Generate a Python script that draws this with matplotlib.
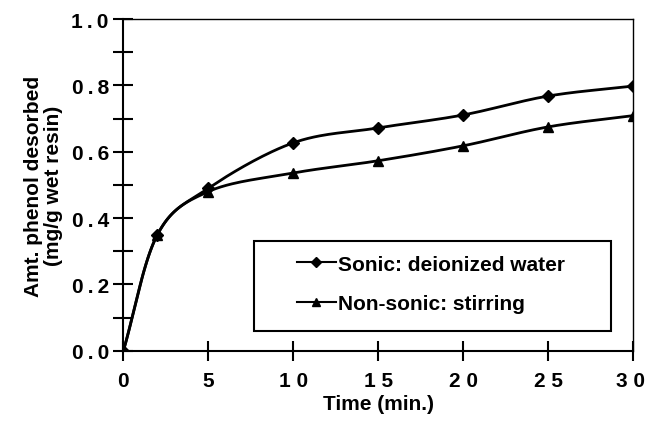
import numpy as np
import matplotlib
matplotlib.use("Agg")
import matplotlib.pyplot as plt
import matplotlib.transforms as mtransforms
from matplotlib.patches import Rectangle

# data
time_min = [0, 2, 5, 10, 15, 20, 25, 30]
sonic = [0.0, 0.35, 0.49, 0.627, 0.672, 0.711, 0.768, 0.798]
nonsonic = [0.0, 0.35, 0.48, 0.536, 0.573, 0.618, 0.675, 0.709]
x_ticks = [0, 5, 10, 15, 20, 25, 30]
x_tick_labels = ["0", "5", "1 0", "1 5", "2 0", "2 5", "3 0"]
y_ticks = [0.0, 0.2, 0.4, 0.6, 0.8, 1.0]
y_tick_labels = ["0\u2009.\u20090", "0\u2009.\u20092", "0\u2009.\u20094",
                 "0\u2009.\u20096", "0\u2009.\u20098", "1\u2009.\u20090"]


def smooth(x, y, n=30):
    # catmull-rom style smoothing, like a spreadsheet "smoothed line"
    x = np.asarray(x, float)
    y = np.asarray(y, float)
    px = np.concatenate([[2 * x[0] - x[1]], x, [2 * x[-1] - x[-2]]])
    py = np.concatenate([[2 * y[0] - y[1]], y, [2 * y[-1] - y[-2]]])
    xs, ys = [], []
    t = np.linspace(0, 1, n)
    for i in range(1, len(px) - 2):
        p0, p1, p2, p3 = [np.array([px[j], py[j]]) for j in (i - 1, i, i + 1, i + 2)]
        m1 = (p2 - p0) / 6.0
        m2 = (p3 - p1) / 6.0
        b1 = p1 + m1
        b2 = p2 - m2
        pts = ((1 - t) ** 3)[:, None] * p1 + (3 * (1 - t) ** 2 * t)[:, None] * b1 \
            + (3 * (1 - t) * t ** 2)[:, None] * b2 + (t ** 3)[:, None] * p2
        xs.extend(pts[:, 0])
        ys.extend(pts[:, 1])
    return np.array(xs), np.array(ys)


plt.rcParams["font.family"] = ["Liberation Sans", "DejaVu Sans"]
plt.rcParams["font.weight"] = "bold"

fig = plt.figure(figsize=(6.46, 4.27), dpi=100)
ax = fig.add_axes([0.191, 0.176, 0.789, 0.777])

sx, sy = smooth(time_min, sonic)
ax.plot(sx, sy, color="black", lw=2.0, zorder=3)
ax.plot(time_min, sonic, ls="none", marker="D", ms=6, color="black", zorder=4)
nx, ny = smooth(time_min, nonsonic)
ax.plot(nx, ny, color="black", lw=2.0, zorder=3)
ax.plot(time_min, nonsonic, ls="none", marker="^", ms=7, color="black", zorder=4)

ax.set_xlim(0, 30)
ax.set_ylim(0, 1.0)
ax.set_xticks(x_ticks)
ax.set_xticklabels(x_tick_labels)
ax.set_yticks(y_ticks)
ax.set_yticklabels(y_tick_labels)
ax.set_yticks(np.arange(0.1, 1.0, 0.2), minor=True)
ax.tick_params(axis="both", which="both", direction="inout", length=15, width=1.5,
               labelsize=15)
ax.tick_params(axis="y", pad=3)
ax.tick_params(axis="x", pad=7)
for s in ax.spines.values():
    s.set_linewidth(1.5)
ax.spines["top"].set_linewidth(1.0)
ax.spines["right"].set_linewidth(1.0)

# nudge the last x label so it stays inside the picture
last = ax.get_xticklabels()[-1]
last.set_transform(last.get_transform() +
                   mtransforms.ScaledTranslation(-3 / 100, 0, fig.dpi_scale_trans))

ax.set_xlabel("Time (min.)", fontsize=15, fontweight="bold", labelpad=3)
ax.set_ylabel("Amt. phenol desorbed\n(mg/g wet resin)", fontsize=15,
              fontweight="bold", labelpad=6, linespacing=1.1)

# legend, with a hand-drawn box
ax.add_patch(Rectangle((0.257, 0.06), 0.70, 0.272, transform=ax.transAxes,
                       fill=False, lw=1.5, ec="black", zorder=5))
hs = ax.plot([], [], color="black", lw=1.5, marker="D", ms=5)[0]
hn = ax.plot([], [], color="black", lw=1.5, marker="^", ms=6)[0]
ax.legend([hs, hn], ["Sonic: deionized water", "Non-sonic: stirring"],
          loc="upper left", bbox_to_anchor=(0.34, 0.29), frameon=False,
          fontsize=15, handlelength=1.9, handletextpad=0.1, labelspacing=1.0,
          borderpad=0, borderaxespad=0)

fig.savefig("out.png", dpi=100)
